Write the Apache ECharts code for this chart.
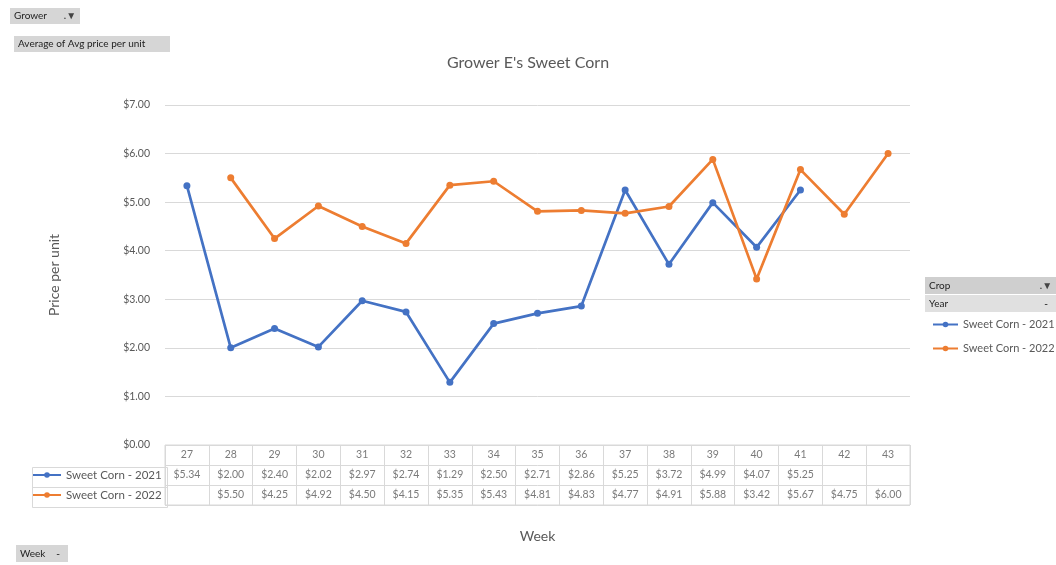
<!DOCTYPE html>
<html>
<head>
<meta charset="utf-8">
<script src="https://cdn.jsdelivr.net/npm/echarts@6/dist/echarts.min.js"></script>
<style>
html,body{margin:0;padding:0;background:#fff;}
#main{width:1056px;height:565px;}
</style>
</head>
<body>
<div id="main"></div>
<script>
var weeks = ['27','28','29','30','31','32','33','34','35','36','37','38','39','40','41','42','43'];
var corn2021 = [5.34,2.00,2.40,2.02,2.97,2.74,1.29,2.50,2.71,2.86,5.25,3.72,4.99,4.07,5.25,null,null];
var corn2022 = [null,5.50,4.25,4.92,4.50,4.15,5.35,5.43,4.81,4.83,4.77,4.91,5.88,3.42,5.67,4.75,6.00];
var seriesNames = ['Sweet Corn - 2021','Sweet Corn - 2022'];
var yTicks = [0,1,2,3,4,5,6,7];

var FONT = 'Lato';
var GRAY = '#595959';
var BLUE = '#4472C4';
var ORANGE = '#ED7D31';
var LINE = '#d9d9d9';

function money(v){ return '$' + v.toFixed(2); }

var rows = ['header','r2021','r2022'];
var tableData = [];
weeks.forEach(function(w,i){
  tableData.push({value:[i,'header'], label:{formatter: w}});
  if (corn2021[i] != null) tableData.push({value:[i,'r2021'], label:{formatter: money(corn2021[i])}});
  if (corn2022[i] != null) tableData.push({value:[i,'r2022'], label:{formatter: money(corn2022[i])}});
});

function button(x,y,w,h,text,fill,withFilter){
  var children = [
    {type:'rect', shape:{x:0,y:0,width:w,height:h}, style:{fill:fill}},
    {type:'text', style:{x:4,y:h/2,text:text,verticalAlign:'middle',fill:'#222',font:'10px ' + FONT}}
  ];
  if (withFilter) {
    children.push({type:'text', style:{x:w-10,y:h/2,text:withFilter,align:'center',verticalAlign:'middle',fill:'#444',font:'bold 10px ' + FONT}});
  }
  return {type:'group', left:x, top:y, children:children};
}

var chart = echarts.init(document.getElementById('main'));
var option = {
  backgroundColor:'#fff',
  animation:false,
  textStyle:{fontFamily:FONT},
  title:{
    text:"Grower E's Sweet Corn", left:'center', top:50,
    textStyle:{fontFamily:FONT, fontSize:16, fontWeight:'normal', color:GRAY}
  },
  legend:[
    {data:seriesNames, orient:'vertical', left:932, top:319, itemGap:13, itemWidth:25, itemHeight:7, padding:0,
     textStyle:{fontFamily:FONT, fontSize:11, color:GRAY}, selectedMode:false},
    {data:[seriesNames[0]], left:32, top:469, itemWidth:28, itemHeight:7, itemGap:0, padding:0,
     textStyle:{fontFamily:FONT, fontSize:11.5, color:GRAY}, selectedMode:false},
    {data:[seriesNames[1]], left:32, top:489, itemWidth:28, itemHeight:7, itemGap:0, padding:0,
     textStyle:{fontFamily:FONT, fontSize:11.5, color:GRAY}, selectedMode:false}
  ],
  grid:[
    {left:165, right:146, top:105, bottom:120},
    {left:165, right:146, top:445, bottom:60, show:true, borderColor:LINE, borderWidth:1}
  ],
  xAxis:[
    {type:'category', data:weeks, gridIndex:0, boundaryGap:true,
     axisLine:{show:false}, axisTick:{show:false}, axisLabel:{show:false}},
    {type:'category', data:weeks, gridIndex:1, boundaryGap:true, position:'bottom',
     axisLine:{show:false}, axisTick:{show:false}, axisLabel:{show:false},
     splitLine:{show:true, interval:0, lineStyle:{color:LINE}},
     name:'Week', nameLocation:'middle', nameGap:24,
     nameTextStyle:{fontFamily:FONT, fontSize:14, color:GRAY}}
  ],
  yAxis:[
    {type:'value', gridIndex:0, min:0, max:7, interval:1,
     axisLine:{show:false}, axisTick:{show:false},
     axisLabel:{formatter:function(v){return money(v);}, fontFamily:FONT, fontSize:10.5, color:GRAY, margin:15},
     splitLine:{lineStyle:{color:LINE}},
     name:'Price per unit', nameLocation:'middle', nameGap:104,
     nameTextStyle:{fontFamily:FONT, fontSize:14, color:GRAY}},
    {type:'category', data:rows, gridIndex:1, inverse:true, boundaryGap:true,
     axisLine:{show:false}, axisTick:{show:false}, axisLabel:{show:false},
     splitLine:{show:true, interval:0, lineStyle:{color:LINE}}}
  ],
  series:[
    {name:seriesNames[0], type:'line', xAxisIndex:0, yAxisIndex:0, data:corn2021,
     color:BLUE, lineStyle:{width:2.7, color:BLUE}, symbol:'circle', symbolSize:7,
     itemStyle:{color:BLUE}, connectNulls:false},
    {name:seriesNames[1], type:'line', xAxisIndex:0, yAxisIndex:0, data:corn2022,
     color:ORANGE, lineStyle:{width:2.7, color:ORANGE}, symbol:'circle', symbolSize:7,
     itemStyle:{color:ORANGE}, connectNulls:false},
    {type:'scatter', xAxisIndex:1, yAxisIndex:1, data:tableData, symbolSize:0, silent:true,
     label:{show:true, position:'inside', fontFamily:FONT, fontSize:10.5, color:GRAY}}
  ],
  graphic:[
    {type:'rect', left:30, top:465, shape:{width:135, height:40}, style:{fill:'none', stroke:LINE, lineWidth:1}, silent:true},
    {type:'line', left:30, top:485, shape:{x1:0,y1:0,x2:135,y2:0}, style:{stroke:LINE, lineWidth:1}, silent:true},
    button(10,8,70,16,'Grower','#d6d6d6','.\u25BC'),
    button(14,36,156,16,'Average of Avg price per unit','#d6d6d6',null),
    button(925,277,131,17,'Crop','#cfcfcf','.\u25BC'),
    button(925,295,131,17,'Year','#e0e0e0','-'),
    button(16,545,52,17,'Week','#d6d6d6','-')
  ]
};
chart.setOption(option);
</script>
</body>
</html>
